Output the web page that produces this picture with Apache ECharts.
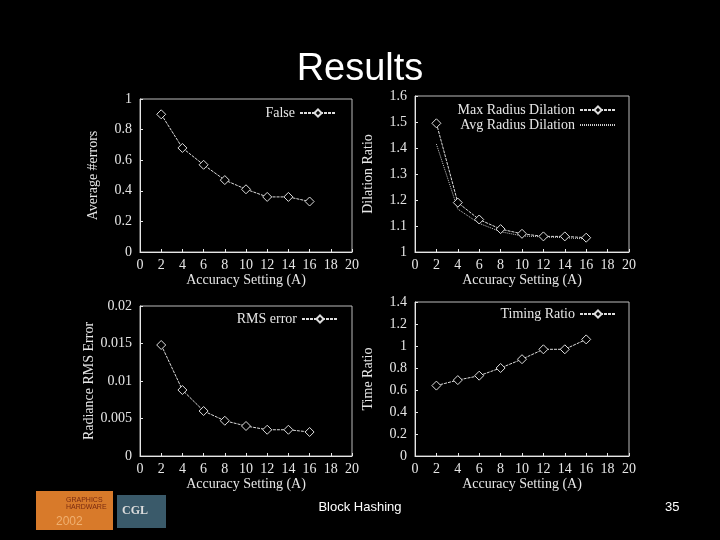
<!DOCTYPE html>
<html>
<head>
<meta charset="UTF-8">
<script src="https://cdn.jsdelivr.net/npm/echarts@6/dist/echarts.min.js"></script>
<style>
  body { margin: 0; background: #000; }
  #chart { width: 720px; height: 540px; }
</style>
</head>
<body>
<div id="chart"></div>
<script>
  // 数据
  const accuracy = [2, 4, 6, 8, 10, 12, 14, 16];
  const falseErrors = [0.9, 0.68, 0.57, 0.47, 0.41, 0.36, 0.36, 0.33];
  const maxDilation = [1.495, 1.19, 1.125, 1.088, 1.07, 1.06, 1.06, 1.055];
  const avgDilation = [1.415, 1.165, 1.11, 1.078, 1.062, 1.058, 1.055, 1.05];
  const rmsError = [0.0148, 0.0088, 0.006, 0.0047, 0.004, 0.0035, 0.0035, 0.0032];
  const timingRatio = [0.64, 0.69, 0.73, 0.8, 0.88, 0.97, 0.97, 1.06];

  const pair = ys => accuracy.map((x, i) => [x, ys[i]]);
  const font = 'Liberation Serif';
  const fg = '#e6e6e6';

  const grids = [
    { left: 140, top: 99, width: 212, height: 153 },
    { left: 415, top: 96, width: 214, height: 156 },
    { left: 140, top: 306, width: 212, height: 150 },
    { left: 415, top: 302, width: 214, height: 154 }
  ].map(g => Object.assign(g, { show: true, borderColor: '#bbb', borderWidth: 1 }));

  function xAxis(idx) {
    return {
      type: 'value', gridIndex: idx, min: 0, max: 20, interval: 2,
      name: 'Accuracy Setting (A)', nameLocation: 'middle', nameGap: 21,
      nameTextStyle: { color: fg, fontFamily: font, fontSize: 14 },
      axisLine: { lineStyle: { color: fg } },
      axisTick: { inside: true, length: 3, lineStyle: { color: fg } },
      axisLabel: { color: fg, fontFamily: font, fontSize: 14, margin: 6 },
      splitLine: { show: false }
    };
  }
  function yAxis(idx, name, min, max, interval, fmt) {
    return {
      type: 'value', gridIndex: idx, min: min, max: max, interval: interval,
      name: name, nameLocation: 'middle', nameGap: 40,
      nameTextStyle: { color: fg, fontFamily: font, fontSize: 14 },
      axisLine: { lineStyle: { color: fg } },
      axisTick: { inside: true, length: 3, lineStyle: { color: fg } },
      axisLabel: { color: fg, fontFamily: font, fontSize: 14, margin: 8, formatter: fmt },
      splitLine: { show: false }
    };
  }

  function line(name, idx, ys, opts) {
    return Object.assign({
      name: name, type: 'line', xAxisIndex: idx, yAxisIndex: idx,
      data: pair(ys), symbol: 'diamond', symbolSize: 9,
      itemStyle: { color: '#000', borderColor: '#ddd', borderWidth: 1 },
      lineStyle: { color: '#ddd', width: 1, type: [3, 1] },
      animation: false
    }, opts || {});
  }

  const legendBase = {
    textStyle: { color: fg, fontFamily: font, fontSize: 14 },
    itemWidth: 36, itemHeight: 9, align: 'right', orient: 'vertical', itemGap: 1
  };

  const chart = echarts.init(document.getElementById('chart'));
  chart.setOption({
    backgroundColor: '#000',
    title: [
      { text: 'Results', left: 'center', top: 46, textStyle: { color: '#fff', fontFamily: 'Liberation Sans', fontSize: 38, fontWeight: 'normal' } },
      { text: 'Block Hashing', left: 'center', top: 496, textStyle: { color: '#fff', fontFamily: 'Liberation Sans', fontSize: 13, fontWeight: 'normal' } },
      { text: '35', left: 660, top: 496, textStyle: { color: '#fff', fontFamily: 'Liberation Sans', fontSize: 13, fontWeight: 'normal' } }
    ],
    graphic: [
      { type: 'rect', shape: { x: 36, y: 491, width: 77, height: 39 }, style: { fill: '#d87a2a' } },
      { type: 'text', x: 66, y: 497, style: { text: 'GRAPHICS\nHARDWARE', fill: '#7a2a10', fontSize: 7, fontFamily: 'Liberation Sans' } },
      { type: 'text', x: 56, y: 516, style: { text: '2002', fill: '#f0b070', fontSize: 12, fontFamily: 'Liberation Sans' } },
      { type: 'rect', shape: { x: 117, y: 495, width: 49, height: 33 }, style: { fill: '#3a5a6a' } },
      { type: 'text', x: 122, y: 505, style: { text: 'CGL', fill: '#ddd', fontSize: 12, fontWeight: 'bold', fontFamily: 'Liberation Serif' } }
    ],
    grid: grids,
    xAxis: [0, 1, 2, 3].map(xAxis),
    yAxis: [
      yAxis(0, 'Average #errors', 0, 1, 0.2),
      yAxis(1, 'Dilation Ratio', 1, 1.6, 0.1, v => v === 1 ? '1' : v.toFixed(1)),
      yAxis(2, 'Radiance RMS Error', 0, 0.02, 0.005, v => String(+v.toFixed(3))),
      yAxis(3, 'Time Ratio', 0, 1.4, 0.2, v => String(+v.toFixed(1)))
    ],
    legend: [
      Object.assign({}, legendBase, { data: ['False'], right: 378, top: 101 }),
      Object.assign({}, legendBase, { data: ['Max Radius Dilation', { name: 'Avg Radius Dilation', itemStyle: { opacity: 0 } }], right: 98, top: 98 }),
      Object.assign({}, legendBase, { data: ['RMS error'], right: 376, top: 307 }),
      Object.assign({}, legendBase, { data: ['Timing Ratio'], right: 98, top: 302 })
    ],
    series: [
      line('False', 0, falseErrors),
      line('Max Radius Dilation', 1, maxDilation),
      line('Avg Radius Dilation', 1, avgDilation, { symbol: 'none', lineStyle: { color: '#ccc', width: 1, type: [1, 1] } }),
      line('RMS error', 2, rmsError),
      line('Timing Ratio', 3, timingRatio)
    ]
  });
</script>
</body>
</html>
